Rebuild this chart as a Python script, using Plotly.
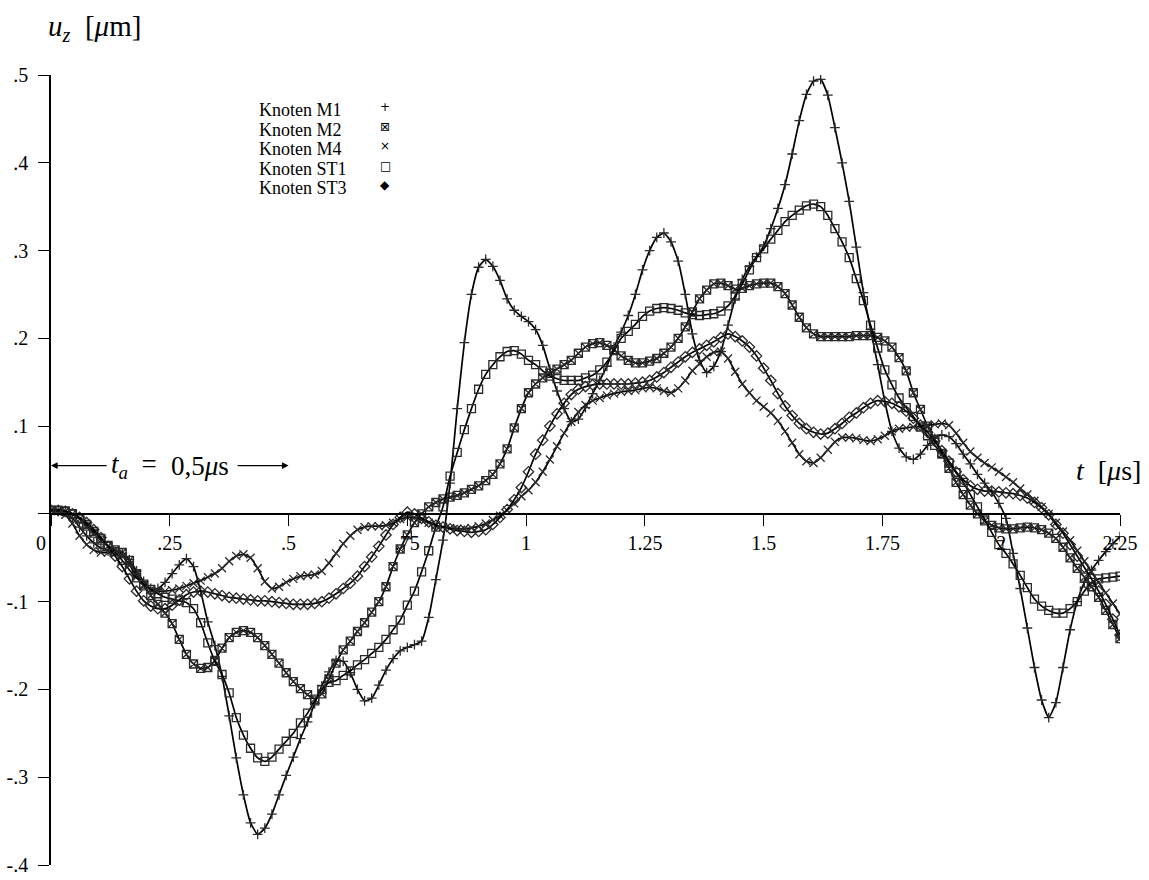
import plotly.graph_objects as go

# time grid (µs), sampling step of the plotted markers
T = [round(0.015 * i, 3) for i in range(151)]

M1 = [0.004, 0.003, 0.002, -0.005, -0.015, -0.025, -0.033, -0.039, -0.042, -0.043,
      -0.045, -0.052, -0.065, -0.077, -0.085, -0.085, -0.078, -0.068, -0.058, -0.051,
      -0.06, -0.088, -0.123, -0.15, -0.185, -0.23, -0.278, -0.32, -0.352, -0.365,
      -0.358, -0.342, -0.32, -0.298, -0.277, -0.256, -0.237, -0.216, -0.196, -0.18,
      -0.167, -0.168, -0.181, -0.2, -0.213, -0.21, -0.195, -0.178, -0.165, -0.156,
      -0.152, -0.149, -0.145, -0.118, -0.075, -0.03, 0.035, 0.12, 0.195, 0.25,
      0.281, 0.29, 0.282, 0.266, 0.245, 0.232, 0.225, 0.219, 0.21, 0.192,
      0.165, 0.14, 0.12, 0.105, 0.108, 0.121, 0.137, 0.152, 0.168, 0.19,
      0.207, 0.226, 0.25, 0.278, 0.3, 0.315, 0.32, 0.31, 0.288, 0.25,
      0.205, 0.175, 0.161, 0.168, 0.185, 0.215, 0.245, 0.267, 0.282, 0.293,
      0.305, 0.325, 0.348, 0.375, 0.41, 0.448, 0.478, 0.493, 0.495, 0.477,
      0.44, 0.4, 0.356, 0.304, 0.252, 0.21, 0.17, 0.128, 0.094, 0.075,
      0.065, 0.062, 0.068, 0.078, 0.086, 0.09, 0.088, 0.08, 0.068, 0.057,
      0.045, 0.035, 0.025, 0.012, -0.005, -0.045, -0.085, -0.13, -0.175, -0.212,
      -0.232, -0.215, -0.175, -0.132, -0.1, -0.078, -0.064, -0.053, -0.043, -0.034,
      -0.026]

M2 = [0.004, 0.004, 0.003, 0.0, -0.006, -0.014, -0.022, -0.03, -0.037, -0.041,
      -0.044, -0.053, -0.068, -0.082, -0.093, -0.103, -0.113, -0.125, -0.143, -0.16,
      -0.171, -0.176, -0.175, -0.167, -0.153, -0.141, -0.135, -0.133, -0.135, -0.141,
      -0.15, -0.16, -0.17, -0.181, -0.191, -0.199, -0.206, -0.211, -0.205, -0.188,
      -0.17, -0.155, -0.145, -0.134, -0.124, -0.112, -0.1, -0.083, -0.06, -0.04,
      -0.024, -0.01, 0.0, 0.008, 0.013, 0.017, 0.019, 0.021, 0.024, 0.028,
      0.032, 0.038, 0.045, 0.057, 0.074, 0.098, 0.12, 0.138, 0.148, 0.155,
      0.16, 0.165, 0.17, 0.175, 0.183, 0.19, 0.194, 0.195, 0.192, 0.187,
      0.18, 0.175, 0.172, 0.172, 0.174, 0.177, 0.183, 0.19, 0.2, 0.213,
      0.23, 0.245, 0.255, 0.262, 0.263, 0.26, 0.256, 0.257, 0.26, 0.262,
      0.263, 0.263, 0.259, 0.251, 0.238, 0.224, 0.212, 0.205, 0.202, 0.202,
      0.202, 0.202, 0.202, 0.203, 0.203, 0.203, 0.201, 0.197, 0.19, 0.178,
      0.163, 0.138, 0.119, 0.1, 0.085, 0.068, 0.052, 0.036, 0.022, 0.01,
      0.0, -0.008, -0.013, -0.016, -0.017, -0.017, -0.016, -0.015, -0.016, -0.018,
      -0.022, -0.028, -0.038, -0.05, -0.062, -0.072, -0.083, -0.095, -0.11, -0.126,
      -0.142]

M4 = [0.004, 0.003, -0.001, -0.011, -0.025, -0.035, -0.041, -0.044, -0.044, -0.045,
      -0.048, -0.058, -0.071, -0.081, -0.086, -0.088, -0.088, -0.087, -0.085, -0.082,
      -0.079, -0.076, -0.072, -0.068, -0.062, -0.054, -0.048, -0.046, -0.05, -0.062,
      -0.077, -0.085, -0.083, -0.078, -0.074, -0.071, -0.07, -0.069, -0.065, -0.056,
      -0.045, -0.034, -0.025, -0.018, -0.015, -0.014, -0.014, -0.013, -0.01, -0.006,
      -0.004, -0.004, -0.007, -0.01, -0.013, -0.015, -0.016, -0.017, -0.017, -0.016,
      -0.014, -0.011, -0.007, -0.002, 0.004, 0.012, 0.02, 0.027, 0.036, 0.048,
      0.062, 0.077, 0.092, 0.105, 0.116, 0.124, 0.129, 0.132, 0.135, 0.137,
      0.139, 0.14, 0.141, 0.143, 0.144, 0.143, 0.14, 0.138, 0.143, 0.152,
      0.163, 0.171, 0.179, 0.184, 0.185, 0.177, 0.162, 0.148, 0.138, 0.129,
      0.122, 0.115, 0.106, 0.094, 0.081, 0.068, 0.06, 0.058, 0.064, 0.073,
      0.082, 0.087, 0.087, 0.086, 0.084, 0.083, 0.085, 0.089, 0.094, 0.097,
      0.098, 0.099, 0.1, 0.101, 0.102, 0.103, 0.101, 0.092, 0.081, 0.071,
      0.064, 0.058, 0.053, 0.048, 0.042, 0.036, 0.029, 0.022, 0.015, 0.008,
      0.0, -0.01, -0.02, -0.03, -0.042, -0.054, -0.066, -0.078, -0.09, -0.102,
      -0.114]

ST1 = [0.004, 0.004, 0.003, 0.0, -0.005, -0.012, -0.02, -0.028, -0.036, -0.043,
       -0.053, -0.064, -0.073, -0.08, -0.086, -0.091, -0.095, -0.097, -0.099, -0.101,
       -0.108, -0.124, -0.147, -0.168, -0.183, -0.204, -0.232, -0.252, -0.267, -0.278,
       -0.282, -0.277, -0.268, -0.259, -0.25, -0.238, -0.227, -0.213, -0.2, -0.192,
       -0.19, -0.184, -0.179, -0.172, -0.166, -0.159, -0.152, -0.143, -0.132, -0.121,
       -0.104, -0.088, -0.066, -0.042, -0.015, 0.008, 0.043, 0.07, 0.096, 0.12,
       0.142, 0.159, 0.17, 0.179, 0.185, 0.186, 0.182, 0.175, 0.17, 0.163,
       0.157, 0.154, 0.152, 0.152, 0.152, 0.155, 0.158, 0.164, 0.173, 0.186,
       0.2, 0.208, 0.216, 0.225, 0.231, 0.234, 0.235, 0.234, 0.232, 0.229,
       0.227, 0.226, 0.227, 0.228, 0.231, 0.237, 0.248, 0.262, 0.278, 0.292,
       0.302, 0.313, 0.323, 0.333, 0.34, 0.346, 0.351, 0.353, 0.35, 0.34,
       0.325, 0.31, 0.292, 0.268, 0.243, 0.215, 0.189, 0.164, 0.147, 0.132,
       0.121, 0.111, 0.099, 0.089, 0.078, 0.069, 0.058, 0.047, 0.036, 0.022,
       0.008, -0.006, -0.021, -0.035, -0.045, -0.057, -0.07, -0.084, -0.097, -0.105,
       -0.11, -0.113, -0.113, -0.108, -0.1, -0.088, -0.078, -0.074, -0.073, -0.072,
       -0.071]

ST3 = [0.004, 0.004, 0.003, 0.0, -0.004, -0.01, -0.018, -0.027, -0.037, -0.048,
       -0.06, -0.074, -0.088, -0.099, -0.105, -0.108, -0.108, -0.104, -0.098, -0.092,
       -0.089, -0.088, -0.089, -0.091, -0.093, -0.095, -0.096, -0.097, -0.098, -0.099,
       -0.099, -0.1, -0.101, -0.102, -0.103, -0.103, -0.103, -0.102, -0.1, -0.096,
       -0.091, -0.085, -0.079, -0.071, -0.06, -0.049, -0.037, -0.024, -0.012, -0.004,
       0.002, 0.0, -0.005, -0.009, -0.013, -0.015, -0.017, -0.019, -0.02, -0.021,
       -0.02, -0.018, -0.012, -0.004, 0.005, 0.016, 0.03, 0.048, 0.068, 0.084,
       0.1, 0.114, 0.126, 0.136, 0.142, 0.145, 0.147, 0.148, 0.148, 0.148,
       0.148, 0.148, 0.149, 0.15, 0.152, 0.156, 0.161, 0.167, 0.173, 0.179,
       0.184, 0.188, 0.192, 0.196, 0.201, 0.205, 0.202, 0.197, 0.19, 0.18,
       0.166, 0.152, 0.137, 0.123, 0.112, 0.103, 0.097, 0.093, 0.091, 0.092,
       0.097, 0.103, 0.11, 0.115, 0.121, 0.126, 0.129, 0.128, 0.126, 0.122,
       0.117, 0.109, 0.101, 0.093, 0.083, 0.072, 0.06, 0.048, 0.039, 0.032,
       0.028, 0.026, 0.026, 0.025, 0.024, 0.023, 0.021, 0.018, 0.013, 0.007,
       -0.001, -0.012, -0.022, -0.035, -0.048, -0.061, -0.074, -0.088, -0.103, -0.12,
       -0.138]

NAMES = ["Knoten M1", "Knoten M2", "Knoten M4", "Knoten ST1", "Knoten ST3"]
SERIES = [M1, M2, M4, ST1, ST3]
SYMBOLS = ["cross-thin", "square-x-open", "x-thin", "square-open", "diamond-open"]
SIZES = [7, 8, 8, 8, 8]
KEY_GLYPHS = ["+", "\u22a0", "\u00d7", "\u25a1", "\u25c6"]

XTICKS = [0, 0.25, 0.5, 0.75, 1, 1.25, 1.5, 1.75, 2, 2.25]
XTEXT = ["0&nbsp;&nbsp;&nbsp;&nbsp;", ".25", ".5", ".75", "1", "1.25", "1.5", "1.75", "2", "2.25"]
YTICKS = [-0.4, -0.3, -0.2, -0.1, 0.1, 0.2, 0.3, 0.4, 0.5]
YTEXT = ["-.4", "-.3", "-.2", "-.1", ".1", ".2", ".3", ".4", ".5"]

SERIF = "Liberation Serif, Times New Roman, serif"

fig = go.Figure()
for name, ys, sym, sz in zip(NAMES, SERIES, SYMBOLS, SIZES):
    fig.add_trace(go.Scatter(
        x=T, y=ys, name=name, mode="lines+markers",
        line=dict(color="black", width=1.7, shape="spline", smoothing=0.5),
        marker=dict(symbol=sym, size=sz, color="#2a2a2a",
                    line=dict(color="#2a2a2a", width=1.3)),
        showlegend=False))

W, H = 1149, 880
# plot area in window pixels: x 51..1120, y 75..865
L, R, TOP, B = 51, W - 1120, 75, H - 865
pw, ph = W - L - R, H - TOP - B

def px(xp):
    return (xp - L) / pw

def py(yp):
    return 1 - (yp - TOP) / ph

ann = []
ann.append(dict(xref="paper", yref="paper", x=px(94), y=py(28), xanchor="center",
                yanchor="middle",
                text="<i>u<sub>z</sub></i>&nbsp;&nbsp;[<i>\u03bc</i>m]", showarrow=False,
                font=dict(family=SERIF, size=29, color="black")))
ann.append(dict(xref="paper", yref="paper", x=px(1108), y=py(470), xanchor="center",
                yanchor="middle",
                text="<i>t</i>&nbsp;&nbsp;[<i>\u03bc</i>s]", showarrow=False,
                font=dict(family=SERIF, size=28, color="black")))
# "t_a = 0,5 µs" with the two arrows that span the excitation time
ann.append(dict(xref="x", yref="y", x=0.0, y=0.055, axref="x", ayref="y",
                ax=0.175, ay=0.055, text="<i>t<sub>a</sub></i>&nbsp;&nbsp;=",
                showarrow=True, arrowhead=2, arrowsize=1.2, arrowwidth=1.1,
                arrowcolor="black", borderpad=4,
                font=dict(family=SERIF, size=27, color="black")))
ann.append(dict(xref="x", yref="y", x=0.5, y=0.055, axref="x", ayref="y",
                ax=0.314, ay=0.055, text="0,5<i>\u03bc</i>s",
                showarrow=True, arrowhead=2, arrowsize=1.2, arrowwidth=1.1,
                arrowcolor="black", borderpad=8,
                font=dict(family=SERIF, size=27, color="black")))
rows = [98, 118, 137, 157, 176]
for name, g, yy in zip(NAMES, KEY_GLYPHS, rows):
    ann.append(dict(xref="paper", yref="paper", x=px(257), y=py(yy), xanchor="left",
                    text=name, showarrow=False,
                    font=dict(family=SERIF, size=18, color="black")))
    ann.append(dict(xref="paper", yref="paper", x=px(385), y=py(yy), xanchor="center",
                    text=g, showarrow=False,
                    font=dict(family="DejaVu Sans", size=12, color="black")))

fig.update_layout(
    width=W, height=H, autosize=False,
    margin=dict(l=L, r=R, t=TOP, b=B, pad=0, autoexpand=False),
    paper_bgcolor="white", plot_bgcolor="white",
    showlegend=False,
    annotations=ann,
    xaxis=dict(range=[0, 2.25], anchor="free", position=0.4 / 0.9, automargin=False,
               showline=True, linecolor="black", linewidth=1.6,
               ticks="outside", ticklen=11, tickwidth=1.4, tickcolor="black",
               tickvals=XTICKS, ticktext=XTEXT, showgrid=False, zeroline=False,
               ticklabeloverflow="allow",
               tickfont=dict(family=SERIF, size=20, color="black")),
    yaxis=dict(range=[-0.4, 0.5], automargin=False,
               showline=True, linecolor="black", linewidth=1.6,
               ticks="outside", ticklen=11, tickwidth=1.4, tickcolor="black",
               tickvals=YTICKS, ticktext=YTEXT, showgrid=False, zeroline=False,
               ticklabelstandoff=6, ticklabeloverflow="allow",
               minor=dict(tickvals=[0], ticks="outside", ticklen=11, tickwidth=1.4,
                          tickcolor="black", showgrid=False),
               tickfont=dict(family=SERIF, size=20, color="black")),
)

fig.write_html("out.html", config={"displayModeBar": False},
               post_script="document.body.style.margin='0';document.body.style.overflow='hidden';")
